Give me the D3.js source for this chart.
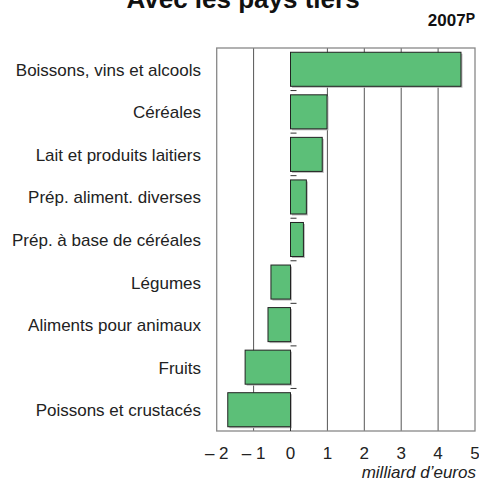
<!DOCTYPE html>
<html><head><meta charset="utf-8">
<script src="https://cdn.jsdelivr.net/npm/d3@7"></script>
<style>body{margin:0;background:#fff}svg{display:block}text{font-family:"Liberation Sans",Arial,sans-serif}</style>
</head><body>
<script>
const categories = ["Boissons, vins et alcools","Céréales","Lait et produits laitiers","Prép. aliment. diverses","Prép. à base de céréales","Légumes","Aliments pour animaux","Fruits","Poissons et crustacés"];
const values = [4.62, 0.99, 0.86, 0.43, 0.35, -0.53, -0.61, -1.23, -1.70];
const xTicks = [-2,-1,0,1,2,3,4,5];
const title = "Avec les pays tiers";
const yearLabel = "2007";
const unitLabel = "milliard d’euros";

const W = 479, H = 481;
const svg = d3.select("body").append("svg").attr("width", W).attr("height", H);
const x = d3.scaleLinear().domain([-2,5]).range([216.7,475]);
const y = d3.scaleBand().domain(categories).range([48,431]).paddingInner(0.2).paddingOuter(0.1);

// title
svg.append("text").attr("x",243).attr("y",8).attr("text-anchor","middle")
  .attr("font-size",26).attr("font-weight","bold").attr("fill","#111").text(title);
const yr = svg.append("text").attr("x",475).attr("y",26).attr("text-anchor","end")
  .attr("font-size",17).attr("font-weight","bold").attr("fill","#111");
yr.append("tspan").text(yearLabel);
yr.append("tspan").attr("font-size",14).attr("dy",-3).text("P");

// grid lines
svg.append("g").selectAll("line").data(xTicks.filter(d=>d!==0 && d!==-2 && d!==5)).join("line")
  .attr("x1",d=>x(d)).attr("x2",d=>x(d)).attr("y1",48).attr("y2",431)
  .attr("stroke","#555").attr("stroke-width",1);
// frame
svg.append("rect").attr("x",x(-2)).attr("y",48).attr("width",x(5)-x(-2)).attr("height",383)
  .attr("fill","none").attr("stroke","#888").attr("stroke-width",1.3);

// shadows
svg.append("g").selectAll("rect").data(values).join("rect")
  .attr("x",d=>Math.min(x(0),x(d))+1.5).attr("y",(d,i)=>y(categories[i])+1.5)
  .attr("width",d=>Math.abs(x(d)-x(0))).attr("height",y.bandwidth())
  .attr("fill","#bbb");
// bars
svg.append("g").selectAll("rect").data(values).join("rect")
  .attr("x",d=>Math.min(x(0),x(d))).attr("y",(d,i)=>y(categories[i]))
  .attr("width",d=>Math.abs(x(d)-x(0))).attr("height",y.bandwidth())
  .attr("fill","#5cbf78").attr("stroke","#222").attr("stroke-width",1);

// band boundary ticks on zero line
const bounds = categories.slice(1).map(c=>y(c)-y.step()*y.paddingInner()/2);
svg.append("g").selectAll("line").data(bounds).join("line")
  .attr("x1",x(0)).attr("x2",x(0)+6).attr("y1",d=>d).attr("y2",d=>d)
  .attr("stroke","#333").attr("stroke-width",1);
svg.append("line").attr("x1",x(0)).attr("x2",x(0)).attr("y1",y(categories[8])+y.bandwidth()).attr("y2",431).attr("stroke","#333");

// category labels
svg.append("g").selectAll("text").data(categories).join("text")
  .attr("x",201).attr("y",d=>y(d)+y.bandwidth()/2+6.5).attr("text-anchor","end")
  .attr("font-size",17).attr("fill","#222").text(d=>d);

// x tick labels
svg.append("g").selectAll("text").data(xTicks).join("text")
  .attr("x",d=>x(d)).attr("y",459).attr("text-anchor","middle")
  .attr("font-size",17).attr("fill","#222").text(d=>d<0?"– "+Math.abs(d):String(d));
svg.append("text").attr("x",476).attr("y",478).attr("text-anchor","end")
  .attr("font-size",17).attr("font-style","italic").attr("fill","#222").text(unitLabel);
</script>
</body></html>
